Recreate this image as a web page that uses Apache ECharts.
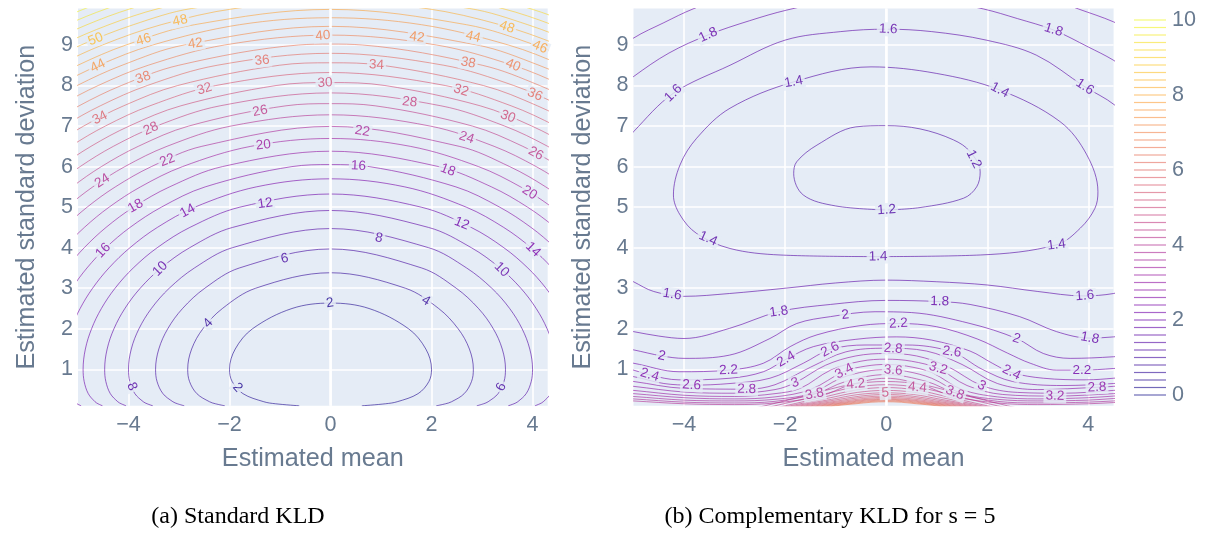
<!DOCTYPE html>
<html><head><meta charset="utf-8">
<script src="https://cdn.jsdelivr.net/npm/echarts@6/dist/echarts.min.js"></script>
<style>html,body{margin:0;background:#fff}#c{width:1209px;height:538px}</style>
</head><body><div id="c"></div>
<script>
// ---------------- DATA ----------------
const xTicks = [-4, -2, 0, 2, 4];
const yTicks = [1, 2, 3, 4, 5, 6, 7, 8, 9];
const colorbarTicks = [0, 2, 4, 6, 8, 10];
const colorbarLevels = [0,0.2,0.4,0.6,0.8,1,1.2,1.4,1.6,1.8,2,2.2,2.4,2.6,2.8,3,3.2,3.4,3.6,3.8,4,4.2,4.4,4.6,4.8,5,5.2,5.4,5.6,5.8,6,6.2,6.4,6.6,6.8,7,7.2,7.4,7.6,7.8,8,8.2,8.4,8.6,8.8,9,9.2,9.4,9.6,9.8,10];

// Left panel (Standard KLD): contour half-widths |mean| read at each std-dev row
const leftSigma = [0.1,0.15,0.2,0.4,0.7,1,1.5,2,2.5,3,3.5,4,4.5,5,5.5,6,6.5,7,7.5,8,8.5,9,9.5,9.9,10.3];
const leftLevels = [2,4,6,8,10,12,14,16,18,20,22,24,26,28,30,32,34,36,38,40,42,44,46,48,50,52,54,56,58];
const leftStart = [0,0,0,0,0,0,0,0,0,0,0,0,8,9,10,11,12,13,14,14,15,16,17,17,18,19,19,20,21];
const leftHalfWidth = [
 [0.620,1.088,1.320,1.734,1.948,2.000,1.887,1.545,0.763],
 [2.094,2.277,2.396,2.647,2.792,2.828,2.750,2.527,2.141,1.482],
 [2.896,3.030,3.121,3.318,3.435,3.464,3.400,3.223,2.930,2.489,1.804],
 [3.519,3.631,3.707,3.874,3.974,4.000,3.945,3.793,3.547,3.193,2.694,1.942],
 [4.048,4.145,4.212,4.360,4.449,4.472,4.423,4.288,4.072,3.768,3.355,2.788,1.939],
 [4.515,4.603,4.663,4.797,4.878,4.899,4.854,4.731,4.537,4.266,3.906,3.431,2.785,1.794],
 [4.938,5.018,5.074,5.197,5.272,5.292,5.250,5.137,4.958,4.711,4.388,3.971,3.429,2.687,1.470],
 [5.328,5.402,5.454,5.568,5.639,5.657,5.618,5.512,5.346,5.118,4.822,4.447,3.970,3.349,2.482,0.764],
 [5.691,5.761,5.809,5.917,5.983,6.000,5.963,5.864,5.708,5.495,5.221,4.876,4.445,3.901,3.187,2.141],
 [6.032,6.098,6.143,6.246,6.308,6.325,6.290,6.196,6.048,5.848,5.591,5.270,4.874,4.384,3.763,2.930,1.579],
 [6.355,6.417,6.461,6.558,6.618,6.633,6.600,6.510,6.370,6.180,5.938,5.637,5.269,4.819,4.261,3.547,2.548],
 [6.662,6.722,6.763,6.856,6.914,6.928,6.896,6.811,6.677,6.496,6.265,5.981,5.635,5.217,4.707,4.072,3.239,1.973],
 [6.970,6.797,6.577,6.307,5.980,5.587,5.115,4.537,3.807,2.809,0.883],
 [7.085,6.874,6.616,6.305,5.935,5.492,4.958,4.300,3.448,2.186],
 [7.159,6.912,6.615,6.263,5.845,5.346,4.743,3.986,2.963,1.077],
 [7.195,6.911,6.574,6.177,5.708,5.147,4.460,3.575,2.271],
 [7.194,6.872,6.493,6.048,5.522,4.888,4.096,3.026,1.015],
 [7.157,6.794,6.371,5.873,5.281,4.558,3.628,2.243],
 [7.082,6.677,6.204,5.647,4.978,4.142,3.005,0.628],
 [7.359,6.970,6.519,5.991,5.365,4.600,3.610,2.096],
 [7.252,6.819,6.316,5.725,5.016,4.127,2.897],
 [7.106,6.625,6.065,5.400,4.586,3.521,1.803],
 [6.920,6.386,5.758,5.003,4.049,2.693],
 [7.204,6.692,6.096,5.388,4.516,3.354,1.891],
 [6.984,6.416,5.747,4.939,3.905,2.752],
 [6.720,6.085,5.329,4.388,3.402,1.890],
 [7.011,6.405,5.692,4.822,3.947,2.752],
 [6.711,6.033,5.220,4.424,3.402],
 [6.356,5.590,4.855,3.946]
];
const leftTop = [2.634,3.382,3.969,4.472,4.918,5.324,5.699,6.050,6.380,6.694,6.992,7.278,7.553,7.818,8.073,8.321,8.561,8.795,9.022,9.244,9.460,9.672,9.878,10.08,10.28,10.47,10.66,10.85,11.04];
const leftLabels = [
 [50,-4.66,9.165],[46,-3.71,9.165],[48,-2.98,9.61],[42,-2.68,9.07],[44,-4.61,8.49],[38,-3.71,8.19],
 [36,-1.36,8.69],[32,-2.50,7.93],[34,-4.56,7.19],[26,-1.40,7.41],[28,-3.55,6.92],[20,-1.33,6.55],
 [22,-3.24,6.19],[24,-4.53,5.67],[12,-1.30,5.13],[18,-3.87,5.05],[14,-2.83,4.91],[16,-4.50,3.93],
 [10,-3.38,3.49],[6,-0.93,3.86],[4,-2.42,2.13],[8,-3.94,0.57],[2,-1.86,0.53],
 [40,-0.15,9.23],[42,1.72,9.29],[44,2.83,9.23],[48,3.49,9.43],[46,4.15,8.96],[34,0.91,8.49],
 [38,2.73,8.59],[40,3.61,8.49],[30,-0.11,8.08],[32,2.58,7.86],[36,4.05,7.78],[28,1.57,7.64],
 [30,3.52,7.26],[22,0.64,6.96],[24,2.70,6.74],[26,4.07,6.33],[16,0.55,6.00],[18,2.33,5.94],
 [20,3.95,5.37],[2,-0.01,2.63],[8,0.98,4.37],[12,2.60,4.60],[4,1.90,2.71],[10,3.39,3.46],
 [14,4.00,3.94],[6,3.39,0.56]
];

// Right panel (Complementary KLD, s = 5): contour polylines [mean, std]
const rightContourLevels = [1.2,1.4,1.6,1.6,1.8,1.8,2,2,2.2,2.4,2.6,2.8,3,3.2,3.4,3.6,3.8,4,4.2,4.4,4.6,4.8,5,5.2,5.4,5.6,5.8,6,6.2,6.4,6.6];
const rightContourPoints = [
 [[0,4.93],[0.67,4.99],[1.53,5.22],[1.79,5.5],[1.86,5.87],[1.66,6.37],[1.33,6.66],[0.67,6.93],[0,7.01],[-0.6,6.98],[-1.37,6.53],[-1.77,6.12],[-1.83,5.83],[-1.64,5.3],[-1.0,5.03],[0,4.93]],
 [[-0.19,3.78],[1.86,3.82],[3.37,4.07],[3.84,4.48],[4.13,4.97],[4.19,5.38],[3.97,6.29],[3.44,7.11],[2.25,7.89],[0.99,8.3],[-0.3,8.46],[-1.83,8.09],[-3.09,7.44],[-3.75,6.7],[-4.08,6.04],[-4.21,5.3],[-4.08,4.81],[-3.75,4.35],[-3.09,3.98],[-2.1,3.82],[-0.19,3.78]],
 [[-5.3,6.4],[-5,6.86],[-4.21,7.81],[-3.09,8.5],[-2.0,9.12],[-0.9,9.33],[0,9.39],[0.9,9.33],[1.98,9.12],[2.97,8.75],[3.93,7.97],[4.52,7.52],[4.9,7.0]],
 [[-5.3,3.35],[-5,3.16],[-4.6,2.92],[-4.0,2.80],[-3.1,2.87],[-2.0,3.0],[-1.0,3.13],[0,3.2],[1.0,3.16],[2.0,3.08],[3.0,2.92],[3.9,2.81],[4.5,2.87],[4.8,3.0]],
 [[-5.3,7.9],[-5,8.22],[-4.3,8.8],[-3.52,9.25],[-2.7,9.6],[-1.97,9.86],[-1,10.1],[0,10.15],[1,10.1],[1.92,9.89],[2.6,9.65],[3.31,9.37],[4.0,8.95],[4.49,8.63],[4.8,8.35]],
 [[-5.3,2.0],[-5,1.93],[-4.5,1.82],[-4.0,1.76],[-3.1,2.01],[-2.13,2.42],[-1.1,2.6],[0,2.7],[1.06,2.67],[1.66,2.6],[2.64,2.3],[3.37,1.93],[4.03,1.77],[4.5,1.8],[4.8,1.85]],
 [[-5.3,8.85],[-5,9.17],[-4.4,9.55],[-3.82,9.89],[-3,10.25],[0,10.7],[3,10.25],[3.8,9.89],[4.5,9.57],[4.8,9.35]],
 [[-5.3,1.55],[-5,1.48],[-4.44,1.33],[-4.0,1.27],[-3.1,1.35],[-2.3,1.76],[-1.77,2.13],[-1.1,2.3],[-0.22,2.42],[0.5,2.4],[1.66,2.13],[2.58,1.76],[3.11,1.39],[3.64,1.27],[4.5,1.31],[4.8,1.36]],
 [[-5.3,1.2],[-5,1.15],[-4.1,0.94],[-3.12,0.98],[-2.43,1.15],[-1.9,1.56],[-1.37,1.85],[-0.5,2.08],[0.24,2.13],[1.0,2.05],[1.8,1.75],[2.4,1.4],[2.85,1.15],[3.37,0.98],[3.87,0.98],[4.5,1.02],[4.8,1.06]],
 [[-5.3,1.02],[-5,0.98],[-4.68,0.86],[-4.1,0.74],[-3.09,0.78],[-2.43,0.94],[-1.98,1.25],[-1.44,1.56],[-0.6,1.74],[0.2,1.8],[0.9,1.72],[1.66,1.45],[2.1,1.15],[2.48,0.92],[3.11,0.78],[3.97,0.74],[4.5,0.78],[4.8,0.82]],
 [[-5.3,0.86],[-5,0.82],[-4.4,0.65],[-3.85,0.61],[-3.09,0.65],[-2.3,0.78],[-1.64,1.15],[-1.11,1.49],[-0.4,1.6],[0.4,1.6],[1.3,1.43],[1.9,1.0],[2.5,0.7],[3.5,0.6],[4.5,0.65],[4.8,0.7]],
 [[-5.3,0.74],[-5,0.7],[-4,0.53],[-2.76,0.51],[-2.2,0.62],[-1.5,1.05],[-0.8,1.43],[0,1.52],[0.8,1.45],[1.5,1.12],[2.2,0.65],[3,0.5],[4.17,0.556],[4.5,0.58],[4.8,0.62]],
 [[-5.3,0.62],[-5,0.58],[-4,0.44],[-3,0.41],[-2.2,0.5],[-1.8,0.67],[-1.2,1.1],[-0.6,1.33],[0,1.39],[0.6,1.33],[1.2,1.08],[1.89,0.6],[2.6,0.43],[3.5,0.41],[4.5,0.48],[4.8,0.52]],
 [[-5.3,0.51],[-5,0.48],[-4,0.36],[-3,0.33],[-2.2,0.4],[-1.7,0.53],[-1.1,0.98],[-0.5,1.2],[0,1.25],[0.5,1.2],[1.03,1.02],[1.6,0.6],[2.3,0.38],[3.34,0.34],[4.5,0.4],[4.8,0.43]],
 [[-5.3,0.42],[-5,0.4],[-4,0.3],[-3,0.27],[-2.2,0.32],[-1.5,0.5],[-0.83,0.95],[-0.4,1.08],[0,1.12],[0.4,1.08],[0.9,0.92],[1.5,0.5],[2.2,0.32],[3,0.27],[4,0.3],[4.5,0.34],[4.8,0.36]],
 [[-5.3,0.35],[-5,0.33],[-4,0.24],[-3,0.22],[-2.2,0.26],[-1.5,0.4],[-0.9,0.78],[-0.4,0.95],[0,0.99],[0.4,0.95],[0.9,0.78],[1.5,0.4],[2.2,0.26],[3,0.22],[4,0.24],[4.5,0.28],[4.8,0.3]],
 [[-5.3,0.29],[-5,0.27],[-4,0.19],[-3,0.17],[-2.2,0.21],[-1.41,0.39],[-0.8,0.7],[0,0.87],[0.8,0.7],[1.36,0.42],[2.2,0.21],[3,0.17],[4,0.19],[4.5,0.22],[4.8,0.24]],
 [[-5.3,0.24],[-5,0.22],[-4,0.15],[-3,0.13],[-2.2,0.17],[-1.3,0.34],[-0.7,0.62],[0,0.78],[0.7,0.62],[1.3,0.34],[2.2,0.17],[3,0.13],[4,0.15],[4.5,0.18],[4.8,0.2]],
 [[-2.7,0.02],[-2.4,0.1],[-1.44,0.4],[-0.72,0.62],[0,0.7],[0.72,0.62],[1.44,0.4],[2.4,0.1],[2.7,0.02]],
 [[-2.5,0.02],[-2.2,0.1],[-1.32,0.36],[-0.66,0.55],[0,0.62],[0.66,0.55],[1.32,0.36],[2.2,0.1],[2.5,0.02]],
 [[-2.3,0.02],[-2.0,0.1],[-1.2,0.325],[-0.6,0.49],[0,0.55],[0.6,0.49],[1.2,0.325],[2.0,0.1],[2.3,0.02]],
 [[-2.2,0.02],[-1.9,0.1],[-1.14,0.29],[-0.57,0.43],[0,0.48],[0.57,0.43],[1.14,0.29],[1.9,0.1],[2.2,0.02]],
 [[-2.1,0.02],[-1.8,0.1],[-1.08,0.26],[-0.54,0.38],[0,0.42],[0.54,0.38],[1.08,0.26],[1.8,0.1],[2.1,0.02]],
 [[-2.0,0.02],[-1.7,0.1],[-1.02,0.24],[-0.51,0.34],[0,0.38],[0.51,0.34],[1.02,0.24],[1.7,0.1],[2.0,0.02]],
 [[-1.9,0.02],[-1.6,0.1],[-0.96,0.22],[-0.48,0.31],[0,0.34],[0.48,0.31],[0.96,0.22],[1.6,0.1],[1.9,0.02]],
 [[-1.8,0.02],[-1.5,0.1],[-0.9,0.205],[-0.45,0.28],[0,0.31],[0.45,0.28],[0.9,0.205],[1.5,0.1],[1.8,0.02]],
 [[-1.7,0.02],[-1.4,0.1],[-0.84,0.19],[-0.42,0.257],[0,0.28],[0.42,0.257],[0.84,0.19],[1.4,0.1],[1.7,0.02]],
 [[-1.6,0.02],[-1.3,0.1],[-0.78,0.18],[-0.39,0.24],[0,0.26],[0.39,0.24],[0.78,0.18],[1.3,0.1],[1.6,0.02]],
 [[-1.5,0.02],[-1.2,0.1],[-0.72,0.17],[-0.36,0.222],[0,0.24],[0.36,0.222],[0.72,0.17],[1.2,0.1],[1.5,0.02]],
 [[-1.4,0.02],[-1.1,0.1],[-0.66,0.16],[-0.33,0.204],[0,0.22],[0.33,0.204],[0.66,0.16],[1.1,0.1],[1.4,0.02]],
 [[-1.3,0.02],[-1.0,0.1],[-0.6,0.15],[-0.3,0.187],[0,0.2],[0.3,0.187],[0.6,0.15],[1.0,0.1],[1.3,0.02]]
];
const rightLabels = [
 [1.8,-3.52,9.25],[1.6,-4.21,7.81],[1.4,-1.83,8.09],[1.6,0.04,9.39],[1.8,3.31,9.37],[1.4,2.25,7.89],
 [1.6,3.93,7.97],[1.2,1.76,6.2],[1.2,0.01,4.93],[1.4,-3.55,4.15],[1.4,-0.16,3.8],[1.4,3.37,4.07],
 [1.6,-4.24,2.81],[1.6,3.93,2.81],[1.8,-2.13,2.46],[1.8,1.06,2.67],[1.8,4.03,1.76],
 [2,-4.44,1.33],[2,-0.81,2.36],[2,2.58,1.76],[2.2,-3.12,0.98],[2.2,0.24,2.13],[2.2,3.87,0.98],
 [2.4,-4.68,0.86],[2.4,-1.98,1.25],[2.4,2.48,0.92],[2.6,-3.85,0.61],[2.6,-1.11,1.49],[2.6,1.3,1.43],
 [2.8,-2.76,0.51],[2.8,0.14,1.52],[2.8,4.17,0.556],[3,-1.8,0.67],[3,1.89,0.6],[3.2,1.03,1.02],
 [3.2,3.34,0.34],[3.4,-0.83,0.95],[3.6,0.14,0.99],[3.8,-1.42,0.39],[3.8,1.36,0.42],[4.2,-0.6,0.61],
 [4.4,0.62,0.56],[5,-0.02,0.42]
];

// ---------------- STYLE / BUILD ----------------
const FONT = 'Liberation Sans, Arial, Helvetica, sans-serif';
const TXT = '#687a90';
const BG = '#E5ECF6';
const PLASMA = ['#0d0887','#46039f','#7201a8','#9c179e','#bd3786','#d8576b','#ed7953','#fb9f3a','#fdca26','#f0f921'];
function hex(h){return [parseInt(h.slice(1,3),16),parseInt(h.slice(3,5),16),parseInt(h.slice(5,7),16)];}
function plasma(t){
  t = Math.max(0, Math.min(1, t));
  const n = PLASMA.length - 1;
  const i = Math.min(n - 1, Math.floor(t * n));
  const f = t * n - i;
  const a = hex(PLASMA[i]), b = hex(PLASMA[i + 1]);
  return 'rgb(' + a.map((v, k) => Math.round(v + (b[k] - v) * f)).join(',') + ')';
}
const LEFT_ZMAX = 58.7, RIGHT_ZMAX = 10;
const fmtNum = v => (Math.round(v * 10) / 10).toString();
const tickFmt = v => v < 0 ? '\u2212' + Math.abs(v) : String(v);

// left polylines from half-width table (mirror about mean = 0)
const leftLines = leftHalfWidth.map((row, li) => {
  const lft = [], rgt = [];
  row.forEach((w, k) => {
    const s = leftSigma[leftStart[li] + k];
    lft.push([-w, s]); rgt.unshift([w, s]);
  });
  return lft.concat([[0, leftTop[li]]], rgt);
});

const chart = echarts.init(document.getElementById('c'), null, {renderer: 'canvas'});

function axes(gi, xmax) {
  const common = {
    gridIndex: gi, type: 'value',
    axisLine: {show: false},
    splitLine: {show: true, lineStyle: {color: '#ffffff', width: 1.6}},
    nameLocation: 'middle',
    nameTextStyle: {fontSize: 25.2, color: TXT, fontFamily: FONT}
  };
  return {
    x: Object.assign({}, common, {
      min: -5, max: xmax,
      axisTick: {show: false, customValues: xTicks},
      axisLabel: {customValues: xTicks, formatter: tickFmt, fontSize: 21.6, color: TXT, fontFamily: FONT, margin: 8},
      name: 'Estimated mean', nameGap: 41
    }),
    y: Object.assign({}, common, {
      min: 0.1, max: 9.9,
      axisTick: {show: false, customValues: yTicks},
      axisLabel: {customValues: yTicks, fontSize: 21.6, color: TXT, fontFamily: FONT, margin: 5},
      name: 'Estimated standard deviation', nameGap: 38
    })
  };
}
const A0 = axes(0, 4.3), A1 = axes(1, 4.5);
const cbX = {gridIndex: 2, type: 'value', min: 0, max: 1, show: false};
const cbY = {gridIndex: 2, type: 'value', min: 0, max: 10, interval: 2, position: 'right',
  axisLine: {show: false}, axisTick: {show: false}, splitLine: {show: false},
  axisLabel: {fontSize: 21.6, color: TXT, fontFamily: FONT, margin: 6}};

function lineSeries(gi, pts, level, zmax) {
  return {
    type: 'line', xAxisIndex: gi, yAxisIndex: gi, data: pts, smooth: 0.35,
    symbol: 'none', silent: true, z: 2, clip: true,
    lineStyle: {color: plasma(level / zmax), width: 1, opacity: 0.6}
  };
}
const series = [];
[0, 1].forEach(gi => series.push({
  type: 'line', xAxisIndex: gi, yAxisIndex: gi, data: [], silent: true, z: 1,
  markLine: {silent: true, symbol: 'none', label: {show: false},
    lineStyle: {color: '#ffffff', width: 2.6, type: 'solid'}, data: [{xAxis: 0}]}
}));
leftLines.forEach((pts, i) => series.push(lineSeries(0, pts, leftLevels[i], LEFT_ZMAX)));
rightContourPoints.forEach((pts, i) => series.push(lineSeries(1, pts, rightContourLevels[i], RIGHT_ZMAX)));
series.push({
  type: 'scatter', xAxisIndex: 2, yAxisIndex: 2, symbol: 'rect', symbolSize: [32, 1.2], silent: true,
  data: colorbarLevels.map(v => ({value: [0.5, v], itemStyle: {color: plasma(v / 10), opacity: 0.6}}))
});

const option = {
  animation: false,
  backgroundColor: '#ffffff',
  grid: [
    {left: 78, top: 8.5, width: 469.7, height: 397.3, show: true, backgroundColor: BG, borderWidth: 0},
    {left: 633.5, top: 8.5, width: 480.1, height: 397.3, show: true, backgroundColor: BG, borderWidth: 0},
    {left: 1134, top: 20, width: 32, height: 375, show: false}
  ],
  xAxis: [A0.x, A1.x, cbX],
  yAxis: [A0.y, A1.y, cbY],
  graphic: [
    {type: 'text', x: 238, y: 517, style: {text: '(a) Standard KLD', fontSize: 24, fontFamily: 'Liberation Serif, Times New Roman, serif', fill: '#000', align: 'center', verticalAlign: 'middle'}},
    {type: 'text', x: 830, y: 517, style: {text: '(b) Complementary KLD for s = 5', fontSize: 24, fontFamily: 'Liberation Serif, Times New Roman, serif', fill: '#000', align: 'center', verticalAlign: 'middle'}}
  ],
  series: series
};
chart.setOption(option);

// contour labels: snap to their polyline, rotate along it
function buildLabels(gi, lines, lvls, labels, zmax) {
  const out = [];
  labels.forEach(([lv, x, y]) => {
    const p = chart.convertToPixel({gridIndex: gi}, [x, y]);
    let best = null;
    lines.forEach((pts, i) => {
      if (Math.abs(lvls[i] - lv) > 1e-6) return;
      for (let k = 0; k < pts.length - 1; k++) {
        const a = chart.convertToPixel({gridIndex: gi}, pts[k]);
        const b = chart.convertToPixel({gridIndex: gi}, pts[k + 1]);
        const dx = b[0] - a[0], dy = b[1] - a[1];
        const L2 = dx * dx + dy * dy || 1e-9;
        let t = ((p[0] - a[0]) * dx + (p[1] - a[1]) * dy) / L2;
        t = Math.max(0, Math.min(1, t));
        const qx = a[0] + t * dx, qy = a[1] + t * dy;
        const d = (qx - p[0]) ** 2 + (qy - p[1]) ** 2;
        if (!best || d < best.d) best = {d, t, i, k, dx, dy};
      }
    });
    if (!best) return;
    const A = lines[best.i][best.k], B = lines[best.i][best.k + 1];
    const pos = [A[0] + best.t * (B[0] - A[0]), A[1] + best.t * (B[1] - A[1])];
    let ang = Math.atan2(-best.dy, best.dx) * 180 / Math.PI;
    if (ang > 90) ang -= 180;
    if (ang < -90) ang += 180;
    out.push({name: fmtNum(lv), value: pos, label: {rotate: ang, color: plasma(lv / zmax)}});
  });
  return {
    type: 'scatter', xAxisIndex: gi, yAxisIndex: gi, symbolSize: 0, silent: true, z: 5,
    data: out,
    label: {show: true, position: 'inside', formatter: '{b}', fontSize: 13.5, fontFamily: FONT,
      backgroundColor: BG, padding: [0, 2]}
  };
}
series.push(buildLabels(0, leftLines, leftLevels, leftLabels, LEFT_ZMAX));
series.push(buildLabels(1, rightContourPoints, rightContourLevels, rightLabels, RIGHT_ZMAX));
chart.setOption({series: series});
</script></body></html>
